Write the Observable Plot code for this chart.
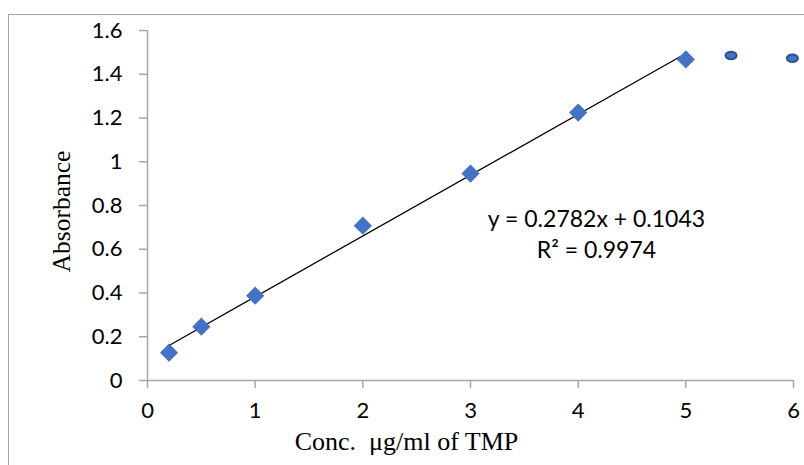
<!DOCTYPE html>
<html>
<head>
<meta charset="utf-8">
<script src="https://cdn.jsdelivr.net/npm/d3@7"></script>
<script src="https://cdn.jsdelivr.net/npm/@observablehq/plot@0.6"></script>
<style>
  html, body { margin: 0; padding: 0; background: #fff; }
  #wrap { position: relative; width: 804px; height: 465px; overflow: hidden; }
  #border { position: absolute; left: 8px; top: 14px; right: -2px; bottom: -2px; border-left: 1.5px solid #a6a6a6; border-top: 1.5px solid #a6a6a6; pointer-events: none; }
</style>
</head>
<body>
<div id="wrap"><div id="border"></div></div>
<script>
// Calibration data (diamonds)
const conc = [0.2, 0.5, 1, 2, 3, 4, 5];
const absorbance = [0.127, 0.246, 0.388, 0.708, 0.946, 1.225, 1.468];
// Extra points (ellipse markers)
const extraConc = [5.42, 5.99];
const extraAbs = [1.486, 1.473];
// Trendline endpoints as drawn
const trendX = [0.2, 5];
const trendY = [0.160, 1.495];
// Ticks
const xTicks = [0, 1, 2, 3, 4, 5, 6];
const yTicks = [0, 0.2, 0.4, 0.6, 0.8, 1, 1.2, 1.4, 1.6];
// Texts
const eqText = "y = 0.2782x + 0.1043";
const r2Text = "R² = 0.9974";
const xTitle = "Conc.  μg/ml of TMP";
const yTitle = "Absorbance";

const pts = conc.map((c, i) => ({x: c, y: absorbance[i]}));
const extra = extraConc.map((c, i) => ({x: c, y: extraAbs[i]}));
const trend = trendX.map((c, i) => ({x: c, y: trendY[i]}));

const ellipseSymbol = {
  draw(ctx, size) {
    const rx = Math.sqrt(size / Math.PI) * 1.2, ry = rx * 0.68, k = 0.5523;
    ctx.moveTo(rx, 0);
    ctx.bezierCurveTo(rx, ry * k, rx * k, ry, 0, ry);
    ctx.bezierCurveTo(-rx * k, ry, -rx, ry * k, -rx, 0);
    ctx.bezierCurveTo(-rx, -ry * k, -rx * k, -ry, 0, -ry);
    ctx.bezierCurveTo(rx * k, -ry, rx, -ry * k, rx, 0);
    ctx.closePath();
  }
};

const tickFont = "Lato, 'Open Sans', sans-serif";
const serif = "'Liberation Serif', 'Times New Roman', serif";
const chart = Plot.plot({
  width: 804,
  height: 465,
  marginLeft: 147,
  marginRight: 11,
  marginTop: 30,
  marginBottom: 85,
  style: {background: "transparent", overflow: "visible"},
  x: {domain: [0, 6], label: null},
  y: {domain: [0, 1.6], label: null},
  marks: [
    Plot.ruleX([0], {stroke: "#a6a6a6", strokeWidth: 1.5}),
    Plot.ruleY([0], {stroke: "#a6a6a6", strokeWidth: 1.5}),
    Plot.axisY({ticks: yTicks, tickSize: 8, tickPadding: 17, tickFormat: d => String(d), stroke: "#a6a6a6", strokeWidth: 1.5, fill: "#000", fontSize: 22, fontFamily: tickFont, label: null}),
    Plot.axisX({ticks: xTicks, tickSize: 8, tickPadding: 14, tickFormat: d => String(d), stroke: "#a6a6a6", strokeWidth: 1.5, fill: "#000", fontSize: 22, fontFamily: tickFont, label: null}),
    Plot.line(trend, {x: "x", y: "y", stroke: "#000", strokeWidth: 1.3}),
    Plot.dot(pts, {x: "x", y: "y", symbol: "diamond2", r: 8.2, fill: "#4472C4", stroke: "none"}),
    Plot.dot(extra, {x: "x", y: "y", symbol: ellipseSymbol, r: 4.6, fill: "#4472C4", stroke: "#2F528F", strokeWidth: 2}),
    Plot.text([eqText], {x: 4.17, y: 0.736, text: d => d, fontSize: 23, fontFamily: tickFont, fill: "#000"}),
    Plot.text([r2Text], {x: 4.17, y: 0.594, text: d => d, fontSize: 23, fontFamily: tickFont, fill: "#000"}),
    Plot.text([xTitle], {frameAnchor: "bottom", dx: -64, dy: 69, text: d => d, fontSize: 26, fontFamily: serif, fill: "#000"}),
    Plot.text([yTitle], {frameAnchor: "left", textAnchor: "middle", dx: -86, dy: 6, rotate: -90, text: d => d, fontSize: 25.5, fontFamily: serif, fill: "#000"})
  ]
});
chart.querySelectorAll("text").forEach(t => t.style.whiteSpace = "pre");
document.getElementById("wrap").prepend(chart);
</script>
</body>
</html>
